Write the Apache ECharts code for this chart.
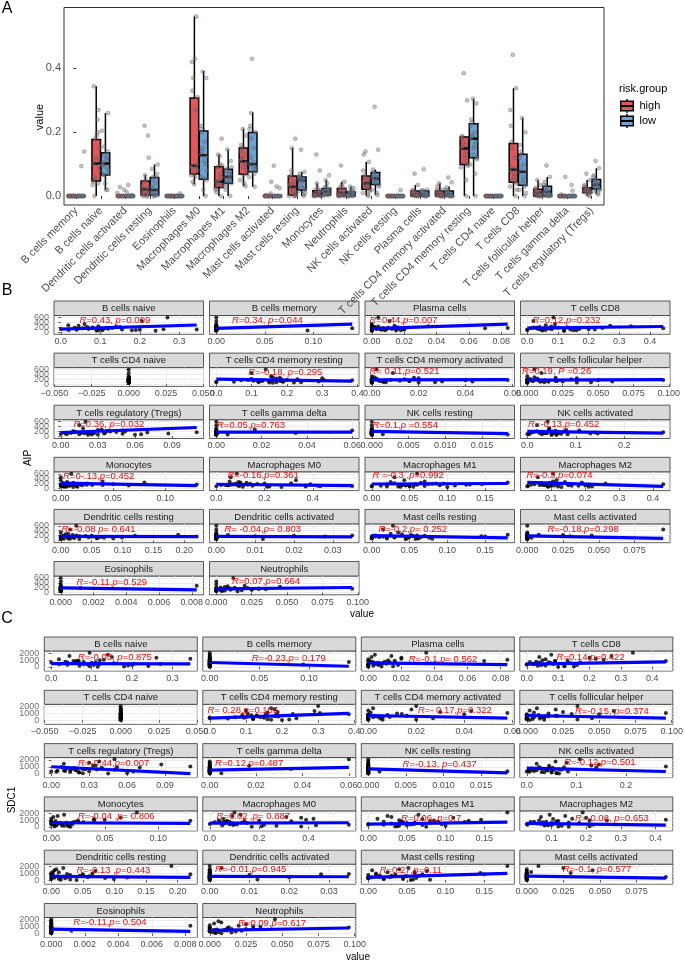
<!DOCTYPE html>
<html><head><meta charset="utf-8">
<script src="https://cdn.jsdelivr.net/npm/echarts@6/dist/echarts.min.js"></script>
<style>html,body{margin:0;padding:0;background:#fff}#c{width:685px;height:961px}</style>
</head><body><div id="c"></div>
<script>
// ---------------- DATA ----------------
const cellsA = ['B cells memory','B cells naive','Dendritic cells activated','Dendritic cells resting','Eosinophils','Macrophages M0','Macrophages M1','Macrophages M2','Mast cells activated','Mast cells resting','Monocytes','Neutrophils','NK cells activated','NK cells resting','Plasma cells','T cells CD4 memory activated','T cells CD4 memory resting','T cells CD4 naive','T cells CD8','T cells follicular helper','T cells gamma delta','T cells regulatory (Tregs)'];
const facetCells = ['B cells naive','B cells memory','Plasma cells','T cells CD8','T cells CD4 naive','T cells CD4 memory resting','T cells CD4 memory activated','T cells follicular helper','T cells regulatory (Tregs)','T cells gamma delta','NK cells resting','NK cells activated','Monocytes','Macrophages M0','Macrophages M1','Macrophages M2','Dendritic cells resting','Dendritic cells activated','Mast cells resting','Mast cells activated','Eosinophils','Neutrophils'];
const riskGroup = ['high','high','high','high','high','high','high','high','high','high','high','high','high','high','high','high','high','high',
  'low','low','low','low','low','low','low','low','low','low','low','low','low','low','low','low','low','low'];
const aip = [120,95,160,210,130,85,240,175,60,140,600,110,190,75,150,260,100,330,
  145,90,170,125,200,70,115,455,180,135,230,80,155,105,280,65,165,195];
const sdc1 = [520,310,880,1450,640,220,2100,760,150,980,450,1200,380,60,700,1600,270,830,
  590,410,1050,180,920,350,1350,480,20,660,1780,300,740,560,1150,90,430,860];
// cell fractions per sample (18 high, then 18 low)
const bCellsMemory = [0,0,0,0,0,0,0,0,0,0,0,0,0,0,0,0,0,0,
  0,0,0,0,0,0.094,0,0,0,0,0,0,0.14,0,0,0,0,0];
const bCellsNaive = [0.102,0.04,0.055,0.15,0.0,0.19,0.095,0.035,0.24,0.12,0.27,0.344,0.08,0.18,0.11,0.045,0.2,0.06,
  0.1,0.02,0.13,0.07,0.065,0.09,0.26,0.205,0.115,0.04,0.14,0.105,0.08,0.155,0.019,0.095,0.12,0.068];
const dcActivated = [0,0,0.028,0,0,0,0,0.01,0,0,0,0,0.02,0,0,0,0,0,
  0,0,0,0,0.035,0,0,0,0,0,0.003,0,0,0,0,0.012,0,0];
const dcResting = [0.02,0.0,0.22,0.005,0.045,0.012,0.19,0.03,0.0,0.065,0.025,0.003,0.12,0.015,0.05,0.008,0.022,0.0,
  0.01,0.058,0.0,0.099,0.025,0.005,0.07,0.015,0.04,0.0,0.019,0.085,0.003,0.06,0.012,0.03,0.002,0.05];
const eosinophils = [0,0,0,0,0,0,0,0,0,0,0,0,0.0012,0,0,0,0,0,
  0,0,0,0,0,0,0,0,0,0,0,0,0,0,0.0083,0,0,0];
const macM0 = [0.09,0.563,0.07,0.31,0.045,0.43,0.1,0.065,0.27,0.037,0.085,0.42,0.08,0.37,0.06,0.092,0.095,0.33,
  0.13,0.0,0.39,0.05,0.2,0.11,0.37,0.06,0.17,0.02,0.125,0.22,0.08,0.15,0.055,0.21,0.1,0.14];
const macM1 = [0.045,0.0,0.13,0.03,0.09,0.05,0.18,0.02,0.1,0.04,0.06,0.012,0.095,0.035,0.125,0.025,0.07,0.043,
  0.06,0.0,0.146,0.04,0.085,0.055,0.11,0.03,0.075,0.045,0.065,0.02,0.09,0.05,0.07,0.038,0.058,0.08];
const macM2 = [0.11,0.031,0.21,0.07,0.15,0.09,0.19,0.05,0.13,0.065,0.105,0.16,0.08,0.12,0.04,0.14,0.1,0.115,
  0.1,0.029,0.43,0.08,0.26,0.09,0.2,0.06,0.15,0.075,0.095,0.22,0.085,0.18,0.105,0.21,0.07,0.12];
const mastActivated = [0,0,0,0.045,0,0,0.008,0,0,0,0,0.003,0,0,0,0,0,0,
  0,0,0.03,0,0,0,0,0.095,0,0,0.025,0,0,0,0,0,0,0];
const mastResting = [0.03,0.0,0.15,0.005,0.065,0.02,0.18,0.0,0.045,0.01,0.028,0.06,0.002,0.08,0.015,0.04,0.0,0.035,
  0.05,0.0,0.145,0.02,0.06,0.045,0.076,0.015,0.055,0.03,0.052,0.062,0.01,0.048,0.025,0.058,0.005,0.07];
const monocytes = [0.008,0.0,0.13,0.002,0.02,0.005,0.08,0.0,0.012,0.04,0.01,0.0,0.017,0.003,0.025,0.006,0.015,0.0,
  0.014,0.002,0.05,0.01,0.025,0.005,0.065,0.0,0.018,0.03,0.012,0.003,0.022,0.008,0.04,0.016,0.02,0.004];
const neutrophils = [0.01,0.0,0.096,0.003,0.025,0.006,0.045,0.0,0.015,0.035,0.012,0.0,0.022,0.004,0.03,0.008,0.018,0.0,
  0.005,0.0,0.03,0.002,0.013,0.0,0.025,0.0,0.008,0.015,0.006,0.0,0.012,0.003,0.02,0.004,0.01,0.0];
const nkActivated = [0.04,0.0,0.14,0.02,0.065,0.03,0.107,0.01,0.05,0.025,0.042,0.13,0.015,0.06,0.035,0.08,0.005,0.045,
  0.055,0.003,0.28,0.035,0.075,0.05,0.145,0.02,0.065,0.04,0.058,0.083,0.03,0.07,0.045,0.06,0.01,0.052];
const nkResting = [0,0,0,0,0,0,0,0,0,0,0,0,0,0,0,0,0,0,
  0,0,0,0,0,0.0185,0,0,0,0,0,0.0015,0,0,0,0,0,0];
const plasmaCells = [0.005,0.0,0.07,0.002,0.016,0.0,0.035,0.01,0.0,0.012,0.004,0.02,0.0,0.008,0.003,0.014,0.006,0.0,
  0.006,0.0,0.084,0.003,0.016,0.0,0.02,0.011,0.0,0.013,0.004,0.018,0.002,0.009,0.0,0.015,0.007,0.001];
const cd4MemActivated = [0.004,0.0,0.04,0.0,0.016,0.0,0.02,0.008,0.0,0.012,0.002,0.03,0.0,0.006,0.0,0.018,0.005,0.0,
  0.003,0.0,0.058,0.0,0.014,0.0,0.043,0.009,0.0,0.016,0.002,0.027,0.0,0.005,0.001,0.02,0.006,0.0];
const cd4MemResting = [0.15,0.0,0.385,0.1,0.185,0.12,0.3,0.09,0.16,0.105,0.14,0.188,0.095,0.17,0.13,0.18,0.05,0.155,
  0.18,0.0,0.305,0.12,0.23,0.15,0.29,0.1,0.2,0.13,0.17,0.24,0.115,0.19,0.16,0.22,0.07,0.185];
const cd4Naive = [0,0,0,0,0,0,0,0,0,0,0,0,0,0,0,0,0,0,
  0,0,0,0,0,0,0,0,0,0,0,0,0,0,0,0,0,0];
const cd8 = [0.08,0.0,0.443,0.04,0.17,0.06,0.338,0.03,0.12,0.05,0.085,0.22,0.02,0.15,0.07,0.27,0.045,0.09,
  0.075,0.0,0.245,0.035,0.13,0.05,0.2,0.02,0.1,0.04,0.078,0.16,0.01,0.14,0.06,0.12,0.03,0.09];
const tfh = [0.01,0.0,0.05,0.002,0.021,0.0,0.035,0.008,0.0,0.015,0.005,0.025,0.0,0.012,0.003,0.02,0.009,0.0,
  0.013,0.0,0.096,0.004,0.031,0.0,0.06,0.01,0.002,0.02,0.007,0.045,0.0,0.015,0.005,0.035,0.012,0.0];
const gammaDelta = [0,0,0,0,0,0,0.06,0,0,0,0,0,0,0.005,0,0,0,0,
  0,0,0,0,0,0,0,0,0,0.035,0,0,0,0,0.017,0,0,0];
const tregs = [0.019,0.0,0.07,0.01,0.027,0.015,0.05,0.012,0.022,0.008,0.02,0.035,0.011,0.025,0.017,0.03,0.004,0.018,
  0.036,0.005,0.11,0.022,0.052,0.03,0.087,0.015,0.045,0.025,0.038,0.065,0.02,0.05,0.033,0.06,0.01,0.04];
const fracA = [bCellsMemory,bCellsNaive,dcActivated,dcResting,eosinophils,macM0,macM1,macM2,mastActivated,mastResting,monocytes,neutrophils,nkActivated,nkResting,plasmaCells,cd4MemActivated,cd4MemResting,cd4Naive,cd8,tfh,gammaDelta,tregs];

// box statistics [min, q1, median, q3, max] in cellsA order
const boxStatsHigh = [[0,0,0,0,0],[0,0.047,0.102,0.177,0.344],[0,0,0,0,0],[0,0.003,0.021,0.047,0.066],[0,0,0,0,0],
  [0.037,0.069,0.095,0.307,0.563],[0,0.027,0.045,0.092,0.13],[0.031,0.068,0.109,0.151,0.211],[0,0,0,0,0],[0,0.003,0.029,0.063,0.151],
  [0,0,0.008,0.017,0.04],[0,0,0.01,0.024,0.045],[0,0.021,0.04,0.063,0.107],[0,0,0,0,0],[0,0,0.005,0.016,0.035],
  [0,0,0.005,0.016,0.04],[0,0.099,0.149,0.185,0.188],[0,0,0,0,0],[0,0.043,0.083,0.165,0.338],[0,0,0.01,0.021,0.05],
  [0,0,0,0,0],[0,0.011,0.019,0.026,0.05]];
const boxStatsLow = [[0,0,0,0,0],[0.019,0.066,0.102,0.136,0.26],[0,0,0,0,0],[0,0.003,0.019,0.058,0.099],[0,0,0,0,0],
  [0,0.053,0.128,0.204,0.392],[0,0.04,0.06,0.084,0.146],[0.029,0.076,0.1,0.199,0.263],[0,0,0,0,0],[0,0.019,0.05,0.06,0.076],
  [0,0.003,0.014,0.024,0.05],[0,0,0.005,0.013,0.03],[0.003,0.036,0.055,0.074,0.083],[0,0,0,0,0],[0,0,0.005,0.016,0.02],
  [0,0,0.004,0.016,0.03],[0,0.12,0.18,0.227,0.305],[0,0,0,0,0],[0,0.034,0.076,0.131,0.245],[0,0,0.013,0.031,0.06],
  [0,0,0,0,0],[0.005,0.022,0.036,0.052,0.087]];
const yTicksA = [0, 0.2, 0.4];

// facet x tick labels (facet order)
const facetTicks = [[0,0.1,0.2,0.3],[0,0.05,0.1],[0,0.02,0.04,0.06,0.08],[0,0.1,0.2,0.3,0.4],[-0.05,-0.025,0,0.025,0.05],
  [0,0.1,0.2,0.3,0.4],[0,0.02,0.04,0.06],[0,0.025,0.05,0.075,0.1],[0,0.03,0.06,0.09],[0,0.02,0.04,0.06],
  [0,0.005,0.01,0.015],[0,0.1,0.2],[0,0.05,0.1],[0,0.2,0.4],[0,0.05,0.1,0.15],[0.1,0.2,0.3,0.4],
  [0,0.05,0.1,0.15,0.2],[0,0.01,0.02,0.03],[0,0.05,0.1,0.15],[0,0.025,0.05,0.075],[0,0.002,0.004,0.006,0.008],[0,0.025,0.05,0.075,0.1]];
const aipTicks = [0,200,400,600];
const sdc1Ticks = [0,1000,2000];
// fitted line values at the facet's min and max x (facet order)
const fitAIP = [[120,290],[150,330],[140,330],[160,230],null,[210,130],[180,185],[170,190],[150,360],[170,175],[200,110],[200,130],
  [220,110],[170,110],[180,200],[250,80],[170,160],[170,150],[200,110],[190,90],[190,110],[150,210]];
const fitSDC1 = [[500,450],[650,100],[600,350],[400,750],null,[300,1000],[700,300],[700,300],[1000,0],[500,900],[700,100],[800,300],
  [600,500],[550,600],[400,700],[500,250],[550,400],[550,500],[400,1000],[600,300],[650,300],[450,800]];
const corAIP = ['R=0.43, p=0.009','R=0.34, p=0.044','R=0.44,p=0.007','R=0.12,p=0.232','','R=-0.18, p=0.295','R= 0.11,p=0.521','R=0.19, P =0.26',
  'R=0.36, p=0.032','R=0.05,p=0.763','R=0.1,p =0.554','R=-0.13,p=0.452','R=0-.13,p=0.452','R=-0.16,p=0.361','R =-0.3 ,p=0.992','R=-0.3,p=0.074',
  'R=-0.08 p= 0.641','R= -0.04,p= 0.803','R=-0.2,p= 0.252','R=-0.18,p=0.298','R=-0.11,p=0.529','R=0.07,p=0.664'];
const corSDC1 = ['R=-0.03, p=0.875','R=-0.23,p= 0.179','R=-0.1,p= 0.562','R=0.14,p=0.422','','R= 0.28,p=0.105','R=- 0.17,p=0.322','R=-0.15, p=0.374',
  'R=-0.44,p=0.007','R=0.12,p=0.487','R=-0.13, p=0.437','R=-0.12,p=0.501','R=-0.04 ,p= 0.806','R=0.02 ,p= 0.887','R=0.06, p=0.7','R=-0.08, p=0.653',
  'R=-0.13 ,p=0.443','R=-0.01,p=0.945','R=0.27,p=0.11','R=-0.1, p=0.577','R=-0.11,p= 0.504','R=0.09,p=0.617'];

// ---------------- LAYOUT / STYLE ----------------
const FONT = 'Liberation Sans, Arial, sans-serif';
const colorHigh = '#E5555C', colorLow = '#6CA3D4';
const jit = [-0.12,0.08,-0.03,0.13,-0.07,0.02,0.11,-0.14,0.05,-0.01,0.09,-0.1,0.14,-0.05,0.03,-0.13,0.07,-0.08];
const layB = {colLeft:[54,209.5,365,520.5], colW:149.5, top0:301, rowStep:52.1, stripH:14.5, panelH:18.8, yMin:-90, yMax:680};
const layC = {colLeft:[44.3,202.8,361.3,519.8], colW:153, top0:637, rowStep:53.3, stripH:14, panelH:20, yMin:-600, yMax:2350};
const annPosB = [[0.17,5],[0.15,5],[0.03,4.5],[0.08,4.5],null,[0.26,5],[0.03,4],[0.01,4],[0.13,5],[0.05,5.5],[0.05,5.5],[0.05,4.5],
  [0.06,4.5],[0.12,4],[0.05,4],[0.04,4],[0.05,5],[0.10,5],[0.09,5.5],[0.18,5.5],[0.15,6.5],[0.15,5.5]];
const annPosC = [[0.22,6],[0.32,7],[0.31,8],[0.24,6],null,[0.03,6],[0.37,6.5],[0.36,7.5],[0.22,5.5],[0.08,5.5],[0.27,7],[0.29,4.5],
  [0.22,5.5],[0.09,5],[0.26,7],[0.36,7],[0.21,6],[0.08,5],[0.12,6],[0.28,5.5],[0.19,5],[0.23,6]];

const grids = [], xAxes = [], yAxes = [], series = [], graphics = [];

// ---------- Panel A ----------
grids.push({left:64, top:7.5, width:540, height:197.5, show:true, borderColor:'#333', borderWidth:1, backgroundColor:'#fff', outerBoundsMode:'none', containLabel:false});
xAxes.push({type:'category', gridIndex:0, data:cellsA, boundaryGap:true,
  axisLine:{show:false}, axisTick:{show:true, alignWithLabel:true, length:3, lineStyle:{color:'#333'}},
  axisLabel:{interval:0, rotate:45, fontSize:11, color:'#4D4D4D', margin:4, fontFamily:FONT}, splitLine:{show:false}});
xAxes.push({type:'value', gridIndex:0, min:-0.5, max:21.5, show:false});
yAxes.push({type:'value', gridIndex:0, min:-0.028, max:0.591, axisLine:{show:false},
  axisTick:{show:true, length:3, customValues:yTicksA, lineStyle:{color:'#333'}},
  axisLabel:{customValues:yTicksA, formatter:v=>v.toFixed(1), fontSize:11, color:'#4D4D4D', margin:3, fontFamily:FONT, showMinLabel:true, showMaxLabel:true},
  splitLine:{show:false}});

const boxData = [];
cellsA.forEach((c,i)=>{ boxData.push([i,0].concat(boxStatsHigh[i])); boxData.push([i,1].concat(boxStatsLow[i])); });
series.push({type:'custom', xAxisIndex:1, yAxisIndex:0, data:boxData, silent:true, z:2, clip:false,
  renderItem:function(params, api){
    const g = api.value(1);
    const cx = api.value(0) + (g===0 ? -0.1875 : 0.1875);
    const x = api.coord([cx, 0])[0];
    const bw = api.size([0.35, 0])[0];
    const y = k => api.coord([cx, api.value(k)])[1];
    const yMin=y(2), yQ1=y(3), yMed=y(4), yQ3=y(5), yMax=y(6);
    return {type:'group', children:[
      {type:'line', shape:{x1:x,y1:yMax,x2:x,y2:yQ3}, style:{stroke:'#000', lineWidth:1.5}},
      {type:'line', shape:{x1:x,y1:yQ1,x2:x,y2:yMin}, style:{stroke:'#000', lineWidth:1.5}},
      {type:'rect', shape:{x:x-bw/2, y:yQ3, width:bw, height:Math.max(yQ1-yQ3,0)}, style:{fill:g===0?colorHigh:colorLow, stroke:'#000', lineWidth:1.5}},
      {type:'line', shape:{x1:x-bw/2,y1:yMed,x2:x+bw/2,y2:yMed}, style:{stroke:'#000', lineWidth:2.5}}
    ]};
  }});
const ptsHigh = [], ptsLow = [];
fracA.forEach((arr,i)=>{
  arr.forEach((v,s)=>{
    if (riskGroup[s]==='high') ptsHigh.push([i-0.1875+jit[s%18], v]);
    else ptsLow.push([i+0.1875+jit[s%18], v]);
  });
});
series.push({type:'scatter', xAxisIndex:1, yAxisIndex:0, data:ptsHigh, symbolSize:4, silent:true, z:5,
  itemStyle:{color:'rgba(140,105,110,0.55)', borderColor:'rgba(80,65,68,0.55)', borderWidth:0.6}});
series.push({type:'scatter', xAxisIndex:1, yAxisIndex:0, data:ptsLow, symbolSize:4, silent:true, z:5,
  itemStyle:{color:'rgba(110,122,138,0.55)', borderColor:'rgba(65,72,85,0.55)', borderWidth:0.6}});

// legend for A
graphics.push({type:'text', x:619, y:89, style:{text:'risk.group', fontSize:11, fill:'#000', fontFamily:FONT, verticalAlign:'middle'}});
[['high',colorHigh,106],['low',colorLow,121]].forEach(([lab,col,yc])=>{
  graphics.push({type:'line', shape:{x1:627,y1:yc-7,x2:627,y2:yc+7}, style:{stroke:'#000', lineWidth:1.4}});
  graphics.push({type:'rect', shape:{x:620.7,y:yc-4.8,width:12.6,height:9.6}, style:{fill:col, stroke:'#000', lineWidth:1.4}});
  graphics.push({type:'line', shape:{x1:620.7,y1:yc,x2:633.3,y2:yc}, style:{stroke:'#000', lineWidth:2}});
  graphics.push({type:'text', x:639.5, y:yc, style:{text:lab, fontSize:11, fill:'#000', fontFamily:FONT, verticalAlign:'middle'}});
});

// ---------- Facets ----------
function decimalsOf(ticks){ return Math.max.apply(null, ticks.map(t=>{const s=String(t); const i=s.indexOf('.'); return i<0?0:s.length-i-1;})); }
function richText(t){ return t.replace(/([RpP])/g, '{i|$1}'); }

function addFacet(k, lay, yVals, yTicks, fits, cors, annPos){
  const r = Math.floor(k/4), c = k%4;
  const stripTop = lay.top0 + r*lay.rowStep;
  const pTop = stripTop + lay.stripH;
  const left = lay.colLeft[c];
  const g = grids.length;
  grids.push({left:left, top:pTop, width:lay.colW, height:lay.panelH, show:true, borderColor:'#333', borderWidth:0.8, backgroundColor:'#fff', outerBoundsMode:'none', containLabel:false});
  graphics.push({type:'rect', shape:{x:left, y:stripTop, width:lay.colW, height:lay.stripH}, style:{fill:'#D9D9D9', stroke:'#333', lineWidth:0.8}});
  graphics.push({type:'text', x:left+lay.colW/2, y:stripTop+lay.stripH/2+0.5, style:{text:facetCells[k], fontSize:9.5, fill:'#1A1A1A', align:'center', verticalAlign:'middle', fontFamily:FONT}});

  const xs = fracA[cellsA.indexOf(facetCells[k])];
  const mn = Math.min.apply(null, xs), mx = Math.max.apply(null, xs);
  let xmin, xmax;
  if (mx === mn) { xmin = mn - 0.0502; xmax = mx + 0.0502; }
  else { const pad = 0.05*(mx-mn); xmin = mn - pad; xmax = mx + pad; }
  const ticks = facetTicks[k];
  const d = decimalsOf(ticks);
  const step = ticks[1]-ticks[0];
  const minors = [];
  for (let t = ticks[0]-step; t <= xmax + step; t += step) { const m = t + step/2; if (m > xmin && m < xmax) minors.push(+m.toFixed(6)); }
  const xi = xAxes.length;
  xAxes.push({type:'value', gridIndex:g, min:xmin, max:xmax, axisLine:{show:false},
    axisTick:{show:true, length:2.5, customValues:ticks, lineStyle:{color:'#333', width:0.8}},
    axisLabel:{customValues:ticks, interval:0, formatter:v=>v.toFixed(d).replace('-','\u2212'), fontSize:9, color:'#4D4D4D', margin:3, fontFamily:FONT, hideOverlap:false, showMinLabel:true, showMaxLabel:true},
    splitLine:{show:true, lineStyle:{color:'#E6E6E6', width:0.8}}});
  xAxes.push({type:'value', gridIndex:g, min:xmin, max:xmax, axisLine:{show:false},
    axisTick:{show:false, customValues:minors}, axisLabel:{show:false},
    splitLine:{show:true, lineStyle:{color:'#F2F2F2', width:0.5}}});
  const yStep = yTicks[1]-yTicks[0];
  const yMinors = [];
  for (let t = yTicks[0]-yStep; t <= lay.yMax + yStep; t += yStep) { const m = t + yStep/2; if (m > lay.yMin && m < lay.yMax) yMinors.push(m); }
  const yi = yAxes.length;
  const showY = c === 0;
  yAxes.push({type:'value', gridIndex:g, min:lay.yMin, max:lay.yMax, axisLine:{show:false},
    axisTick:{show:showY, length:2.5, customValues:yTicks, lineStyle:{color:'#333', width:0.8}},
    axisLabel:{show:false, customValues:yTicks},
    splitLine:{show:true, lineStyle:{color:'#E6E6E6', width:0.8}}});
  yAxes.push({type:'value', gridIndex:g, min:lay.yMin, max:lay.yMax, axisLine:{show:false},
    axisTick:{show:false, customValues:yMinors}, axisLabel:{show:false},
    splitLine:{show:true, lineStyle:{color:'#F2F2F2', width:0.5}}});

  // y tick labels for the left column (drawn through the axis scale, all kept even when overlapping)
  if (showY) {
    series.push({type:'scatter', xAxisIndex:xi, yAxisIndex:yi, data:yTicks.map(v=>[xmin, v]), symbol:'circle', symbolSize:0.1, silent:true, z:6, clip:false,
      itemStyle:{color:'rgba(0,0,0,0)'},
      label:{show:true, position:'left', distance:5, formatter:p=>String(p.value[1]), fontSize:9, color:'#4D4D4D', fontFamily:FONT},
      labelLayout:{hideOverlap:false}});
  }

  series.push({type:'scatter', xAxisIndex:xi, yAxisIndex:yi, data:xs.map((v,s)=>[v, yVals[s]]), symbolSize:4, silent:true, z:3,
    itemStyle:{color:'#000'}});
  if (fits[k]) {
    series.push({type:'line', xAxisIndex:xi, yAxisIndex:yi, data:[[mn, fits[k][0]],[mx, fits[k][1]]], showSymbol:false, symbol:'none', silent:true, z:4,
      lineStyle:{color:'#0000FF', width:3.2}});
  }
  if (cors[k]) {
    graphics.push({type:'text', x:left + annPos[k][0]*lay.colW, y:pTop + annPos[k][1], z:20,
      style:{text:richText(cors[k]), fontSize:9.5, fill:'#FF0000', verticalAlign:'middle', fontFamily:FONT,
        rich:{i:{fontStyle:'italic', fontSize:9.5, fill:'#FF0000', fontFamily:FONT}}}});
  }
}
for (let k=0;k<facetCells.length;k++) addFacet(k, layB, aip, aipTicks, fitAIP, corAIP, annPosB);
for (let k=0;k<facetCells.length;k++) addFacet(k, layC, sdc1, sdc1Ticks, fitSDC1, corSDC1, annPosC);

// titles / labels
const txt = (s,x,y,size,rot)=>({type:'text', x:x, y:y, rotation:rot||0, style:{text:s, fontSize:size, fill:'#000', align:'center', verticalAlign:'middle', fontFamily:FONT}});
graphics.push(txt('A',7,9,16)); graphics.push(txt('B',7,291,16)); graphics.push(txt('C',7,619,16));
graphics.push(txt('value',40,117,11,Math.PI/2));
graphics.push(txt('AIP',28,458,10,Math.PI/2));
graphics.push(txt('value',362,614,10));
graphics.push(txt('SDC1',12,800,10,Math.PI/2));
graphics.push(txt('value',358,957,10));

const chart = echarts.init(document.getElementById('c'), null, {renderer:'canvas'});
chart.setOption({
  animation:false,
  backgroundColor:'#fff',
  textStyle:{fontFamily:FONT},
  grid:grids, xAxis:xAxes, yAxis:yAxes, series:series,
  graphic:{elements:graphics}
});
</script>
</body></html>
